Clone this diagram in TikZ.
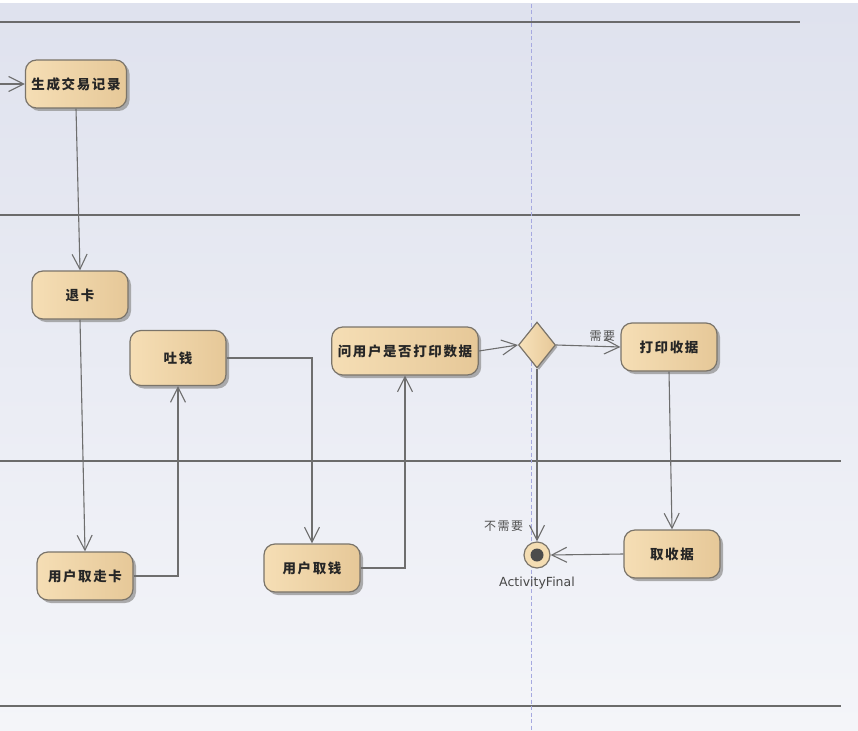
\documentclass[tikz,border=0pt]{standalone}
\usepackage{fontspec}
\usepackage{tikz}
\usetikzlibrary{positioning,arrows.meta,shapes.geometric,shadows}
\newfontfamily\cjk[LetterSpace=12]{Noto Sans CJK SC}
\newfontfamily\lblfont{DejaVu Sans}
\definecolor{atmbgtop}{HTML}{DFE2EE}
\definecolor{atmbgbot}{HTML}{F4F5F9}
\definecolor{atmlane}{HTML}{6B6B6B}
\definecolor{atmdash}{HTML}{A6A9E0}
\definecolor{atmedge}{HTML}{7A746A}
\definecolor{atmlight}{HTML}{F8E2BA}
\definecolor{atmtan}{HTML}{E6C898}
\definecolor{atmline}{HTML}{6E6E6E}
\definecolor{atmtext}{HTML}{262626}
\tikzset{
  act/.style={draw=atmedge,line width=1.2pt,rounded corners=11pt,left color=atmlight!85!atmtan,middle color=atmlight,right color=atmtan,
    minimum width=96pt,minimum height=48pt,inner sep=6pt,text=atmtext,font=\cjk\fontsize{13.5}{15}\selectfont\bfseries,
    drop shadow={shadow xshift=3pt,shadow yshift=-3pt,fill=black!40,opacity=.8}},
  dec/.style={diamond,draw=atmedge,line width=1.2pt,left color=atmlight,right color=atmtan,minimum width=37pt,minimum height=46pt,inner sep=0pt,
    drop shadow={shadow xshift=2pt,shadow yshift=-2pt,fill=black!40,opacity=.8}},
  fin/.style={circle,draw=atmedge,line width=1.2pt,fill=atmlight!80!atmtan,minimum size=26pt,inner sep=0pt},
  flow/.style={draw=atmline,line width=1.1pt,-{Straight Barb[length=15pt,width=15pt,line width=1.1pt]}},
  lbl/.style={text=atmtext!80,font=\cjk\fontsize{12}{14}\selectfont}
}
\begin{document}
\begin{tikzpicture}[x=1pt,y=-1pt]
  \useasboundingbox (0,0) rectangle (858,730);
  \fill[white](0,0)rectangle(858,730);\shade[top color=atmbgtop,bottom color=atmbgbot](0,4)rectangle(858,730);
  % lanes
  \draw[atmlane,line width=1.5pt](0,22)--(800,22);\draw[atmlane,line width=1.5pt](0,215)--(800,215);
  \draw[atmlane,line width=1.5pt](0,461)--(841,461);\draw[atmlane,line width=1.5pt](0,706)--(841,706);
  \draw[atmdash,line width=1pt,dash pattern=on 4pt off 2.5pt](531,4)--(531,730);
  % activities
  \node[act](gen)at(76,84){生成交易记录};
  \node[act](tuika)at(80,295){退卡};
  \node[act,minimum height=55pt](tuqian)at(178,358){吐钱};
  \node[act](ask)at(405,351){问用户是否打印数据};
  \node[dec](choice)at(537,345){};
  \node[act](prt)at(669,347){打印收据};
  \node[act](qzk)at(85,576){用户取走卡};
  \node[act](qq)at(312,568){用户取钱};
  \node[act](qsj)at(672,554){取收据};
  \node[fin](end)at(537,555){};\fill[black!70](end.center)circle(6.5);
  \node[font=\lblfont\fontsize{12.5}{14}\selectfont,text=atmtext!85,below=5pt of end](endlbl){ActivityFinal};
  % flows
  \coordinate(start)at(0,84);
  \draw[flow](start)--(gen.west);
  \draw[flow](gen.south)--(tuika.north);
  \draw[flow](tuika.south)--(qzk.north);
  \draw[flow](qzk.east)-|(tuqian.south);
  \draw[flow](tuqian.east)-|(qq.north);
  \draw[flow](qq.east)-|(ask.south);
  \draw[flow](ask.east)--(choice.west);
  \draw[flow](choice.east)--node[lbl,pos=0.72,above=1pt]{需要}(prt.west);
  \draw[flow](choice.south)--node[lbl,pos=0.91,left=10pt]{不需要}(end.north);
  \draw[flow](prt.south)--(qsj.north);
  \draw[flow](qsj.west)--(end.east);
\end{tikzpicture}
\end{document}
